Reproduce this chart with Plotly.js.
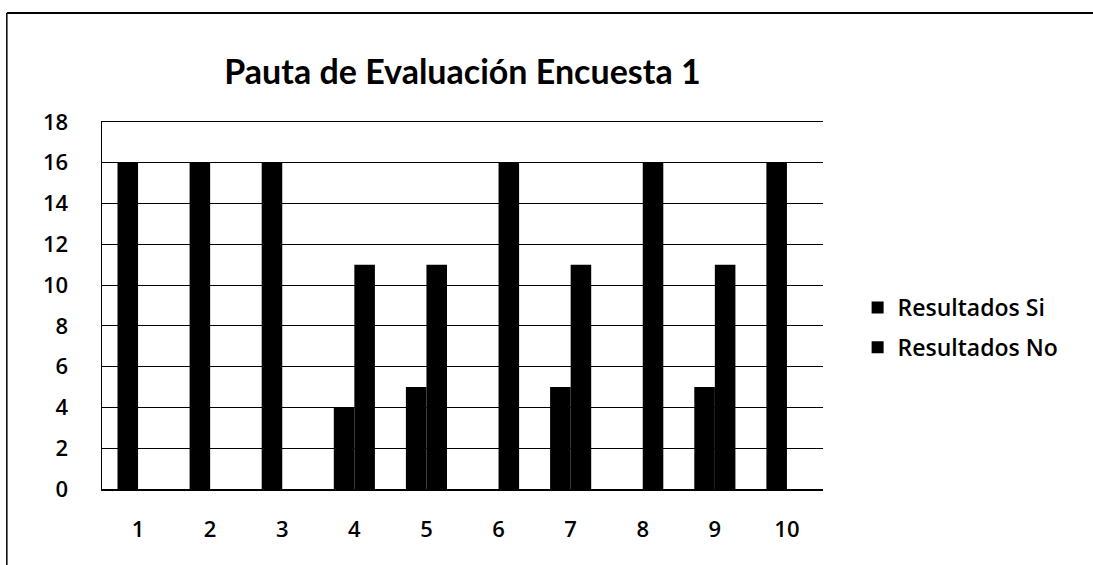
<!DOCTYPE html>
<html>
<head>
<meta charset="utf-8">
<script src="https://cdn.plot.ly/plotly-3.0.1.min.js"></script>
<style>html,body{margin:0;padding:0;background:#fff;}#chart{width:1093px;height:565px;}</style>
</head>
<body>
<div id="chart"></div>
<script>
const categories = ['1','2','3','4','5','6','7','8','9','10'];
const resultadosSi = [16,16,16,4,5,0,5,0,5,16];
const resultadosNo = [0,0,0,11,11,16,11,16,11,0];
const yTicks = [0,2,4,6,8,10,12,14,16,18];

const tickFont = {family:'"Open Sans", Lato, sans-serif', size:22, color:'#000', weight:600};

const traces = [
  {type:'bar', name:'Resultados Si', x:categories, y:resultadosSi, marker:{color:'#000'}, legendgroup:'si'},
  {type:'bar', name:'Resultados No', x:categories, y:resultadosNo, marker:{color:'#000'}, legendgroup:'no'}
];

const layout = {
  width:1093, height:565,
  margin:{l:102, r:270, t:122, b:76},
  paper_bgcolor:'#fff', plot_bgcolor:'#fff',
  barmode:'group', bargap:0.43, bargroupgap:0,
  title:{text:'<b>Pauta de Evaluación Encuesta 1</b>', x:0.5, xref:'paper', xanchor:'center', y:0.872, yref:'container', yanchor:'middle',
    font:{family:'Lato, sans-serif', size:34, color:'#000'}},
  xaxis:{type:'category', showgrid:false, showline:true, mirror:true, linecolor:'#000', linewidth:1.5, ticks:'', ticklabelstandoff:20,
    tickfont:tickFont, zeroline:false, fixedrange:true},
  yaxis:{range:[0,18], tickvals:yTicks, ticktext:yTicks.map(String), showgrid:true, gridcolor:'#000', gridwidth:1.2,
    showline:true, linecolor:'#000', linewidth:1.5, ticks:'', ticklabelstandoff:28, zeroline:false,
    tickfont:tickFont, fixedrange:true},
  showlegend:true,
  legend:{x:1.048, xanchor:'left', y:0.44, yanchor:'middle', traceorder:'grouped', tracegroupgap:7,
    font:{family:'"Open Sans", Lato, sans-serif', size:23, color:'#000', weight:600}, itemwidth:30, bgcolor:'rgba(0,0,0,0)'},
  shapes:[
    {type:'line', xref:'paper', yref:'paper', x0:-0.132, x1:1.38, y0:1.297, y1:1.297, line:{color:'#000', width:2}},
    {type:'line', xref:'paper', yref:'paper', x0:-0.132, x1:-0.132, y0:1.297, y1:-0.22, line:{color:'#000', width:1.5}}
  ]
};

Plotly.newPlot('chart', traces, layout, {displayModeBar:false, staticPlot:true});
</script>
</body>
</html>
